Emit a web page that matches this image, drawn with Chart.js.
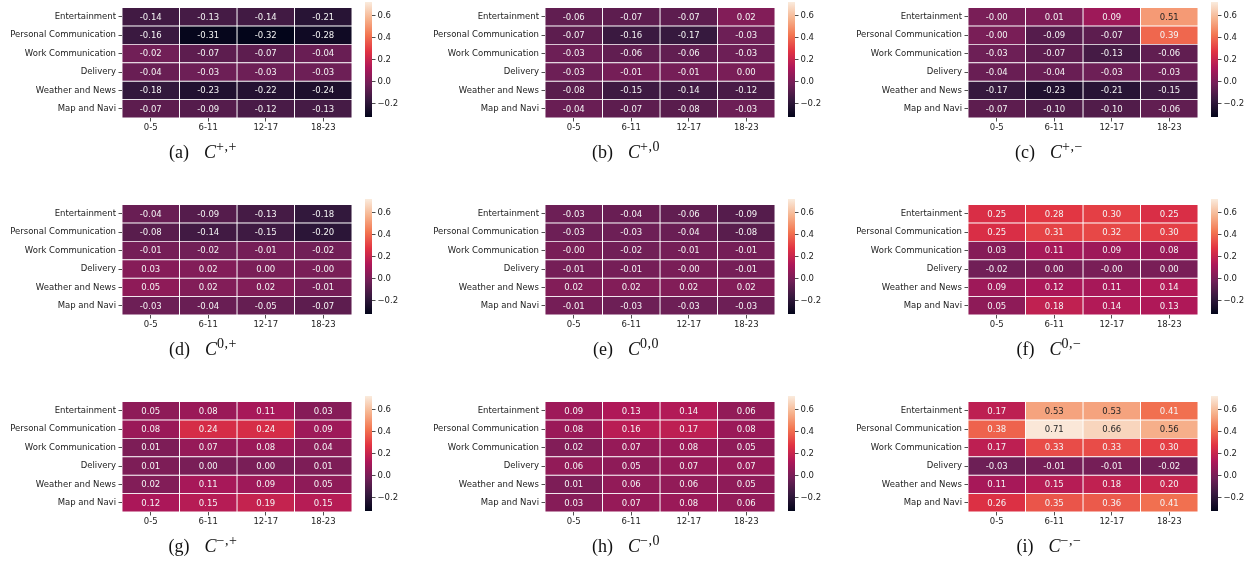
<!DOCTYPE html>
<html>
<head>
<meta charset="utf-8">
<script src="https://cdn.jsdelivr.net/npm/chart.js@4.4.1/dist/chart.umd.min.js"></script>
<style>
  body { margin: 0; background: #fff; }
  #fig { position: relative; width: 1260px; height: 565px; overflow: hidden; }
  #fig canvas { position: absolute; }
  .cap { position: absolute; width: 200px; text-align: center; font-family: 'Liberation Serif', serif; font-size: 18px; color: #111; line-height: 20px; }
  .cap i { margin-left: 15px; }
  .cap sup { font-size: 14px; letter-spacing: 0.5px; vertical-align: 7px; line-height: 0; }
</style>
</head>
<body>
<div id="fig"></div>
<script>
// rows / columns
var apps = ['Entertainment', 'Personal Communication', 'Work Communication', 'Delivery', 'Weather and News', 'Map and Navi'];
var periods = ['0-5', '6-11', '12-17', '18-23'];

// colour bar
var cbMin = -0.32;
var cbMax = 0.72;
var cbTicks = [-0.2, 0.0, 0.2, 0.4, 0.6];

// one array per panel, rows = apps, cols = periods
var cPP = [[-0.14, -0.13, -0.14, -0.21], [-0.16, -0.31, -0.32, -0.28], [-0.02, -0.07, -0.07, -0.04],
           [-0.04, -0.03, -0.03, -0.03], [-0.18, -0.23, -0.22, -0.24], [-0.07, -0.09, -0.12, -0.13]];
var cP0 = [[-0.06, -0.07, -0.07, 0.02], [-0.07, -0.16, -0.17, -0.03], [-0.03, -0.06, -0.06, -0.03],
           [-0.03, -0.01, -0.01, 0.00], [-0.08, -0.15, -0.14, -0.12], [-0.04, -0.07, -0.08, -0.03]];
var cPM = [[-0.00, 0.01, 0.09, 0.51], [-0.00, -0.09, -0.07, 0.39], [-0.03, -0.07, -0.13, -0.06],
           [-0.04, -0.04, -0.03, -0.03], [-0.17, -0.23, -0.21, -0.15], [-0.07, -0.10, -0.10, -0.06]];
var c0P = [[-0.04, -0.09, -0.13, -0.18], [-0.08, -0.14, -0.15, -0.20], [-0.01, -0.02, -0.01, -0.02],
           [0.03, 0.02, 0.00, -0.00], [0.05, 0.02, 0.02, -0.01], [-0.03, -0.04, -0.05, -0.07]];
var c00 = [[-0.03, -0.04, -0.06, -0.09], [-0.03, -0.03, -0.04, -0.08], [-0.00, -0.02, -0.01, -0.01],
           [-0.01, -0.01, -0.00, -0.01], [0.02, 0.02, 0.02, 0.02], [-0.01, -0.03, -0.03, -0.03]];
var c0M = [[0.25, 0.28, 0.30, 0.25], [0.25, 0.31, 0.32, 0.30], [0.03, 0.11, 0.09, 0.08],
           [-0.02, 0.00, -0.00, 0.00], [0.09, 0.12, 0.11, 0.14], [0.05, 0.18, 0.14, 0.13]];
var cMP = [[0.05, 0.08, 0.11, 0.03], [0.08, 0.24, 0.24, 0.09], [0.01, 0.07, 0.08, 0.04],
           [0.01, 0.00, 0.00, 0.01], [0.02, 0.11, 0.09, 0.05], [0.12, 0.15, 0.19, 0.15]];
var cM0 = [[0.09, 0.13, 0.14, 0.06], [0.08, 0.16, 0.17, 0.08], [0.02, 0.07, 0.08, 0.05],
           [0.06, 0.05, 0.07, 0.07], [0.01, 0.06, 0.06, 0.05], [0.03, 0.07, 0.08, 0.06]];
var cMM = [[0.17, 0.53, 0.53, 0.41], [0.38, 0.71, 0.66, 0.56], [0.17, 0.33, 0.33, 0.30],
           [-0.03, -0.01, -0.01, -0.02], [0.11, 0.15, 0.18, 0.20], [0.26, 0.35, 0.36, 0.41]];

var panelData = [cPP, cP0, cPM, c0P, c00, c0M, cMP, cM0, cMM];
var panelTags = ['(a)', '(b)', '(c)', '(d)', '(e)', '(f)', '(g)', '(h)', '(i)'];
var panelSups = ['+,+', '+,0', '+,\u2212', '0,+', '0,0', '0,\u2212', '\u2212,+', '\u2212,0', '\u2212,\u2212'];

// layout of the 3x3 grid (plot area top-left)
var colLeft = [122, 545, 968];
var rowTop = [2, 199, 396];

var FONT = { family: 'DejaVu Sans', size: 8.5 };
var INK = '#222222';

// seaborn "rocket" colormap, sampled stops
var rocketStops = [[3, 5, 26], [53, 25, 62], [112, 31, 87], [173, 23, 89],
                   [225, 51, 66], [243, 118, 81], [246, 180, 143], [250, 235, 221]];

function rocketRgb(t) {
    t = Math.max(0, Math.min(1, t));
    var p = t * (rocketStops.length - 1);
    var i = Math.min(Math.floor(p), rocketStops.length - 2);
    var f = p - i;
    var a = rocketStops[i], b = rocketStops[i + 1];
    return [0, 1, 2].map(function (k) { return Math.round(a[k] + (b[k] - a[k]) * f); });
}

function norm(v) { return (v - cbMin) / (cbMax - cbMin); }

function rgbStr(c) { return 'rgb(' + c[0] + ',' + c[1] + ',' + c[2] + ')'; }

function luminance(c) {
    var l = c.map(function (x) {
        x = x / 255;
        return x <= 0.03928 ? x / 12.92 : Math.pow((x + 0.055) / 1.055, 2.4);
    });
    return 0.2126 * l[0] + 0.7152 * l[1] + 0.0722 * l[2];
}

function fmtCell(v) {
    if (v < 0 || Object.is(v, -0)) { return '-' + Math.abs(v).toFixed(2); }
    return v.toFixed(2);
}

// writes the value in every cell
var cellText = {
    id: 'cellText',
    afterDatasetsDraw: function (chart) {
        var ctx = chart.ctx;
        ctx.save();
        ctx.font = FONT.size + 'px ' + FONT.family;
        ctx.textAlign = 'center';
        ctx.textBaseline = 'middle';
        chart.data.datasets.forEach(function (ds, c) {
            var meta = chart.getDatasetMeta(c);
            meta.data.forEach(function (bar, r) {
                var v = ds.cellValues[r];
                ctx.fillStyle = luminance(rocketRgb(norm(v))) > 0.408 ? '#262626' : '#f4f4f4';
                ctx.fillText(fmtCell(v), (bar.x + bar.base) / 2, bar.y + 0.5);
            });
        });
        ctx.restore();
    }
};

function addCanvas(left, top, w, h) {
    var cv = document.createElement('canvas');
    cv.width = w;
    cv.height = h;
    cv.style.left = left + 'px';
    cv.style.top = top + 'px';
    cv.style.width = w + 'px';
    cv.style.height = h + 'px';
    document.getElementById('fig').appendChild(cv);
    return cv;
}

function makeHeatmap(left, top, values) {
    var cv = addCanvas(left - 122, top - 2, 356, 140);
    var datasets = periods.map(function (p, c) {
        return {
            label: p,
            data: apps.map(function () { return [c, c + 1]; }),
            cellValues: values.map(function (row) { return row[c]; }),
            backgroundColor: values.map(function (row) { return rgbStr(rocketRgb(norm(row[c]))); }),
            borderColor: '#ffffff',
            borderWidth: 0.8,
            borderSkipped: false,
            barPercentage: 1,
            categoryPercentage: 1,
            grouped: false
        };
    });

    return new Chart(cv, {
        type: 'bar',
        data: { labels: apps, datasets: datasets },
        options: {
            indexAxis: 'y',
            responsive: false,
            animation: false,
            events: [],
            layout: { padding: { top: 2, right: 4, left: 0, bottom: 0 } },
            plugins: { legend: { display: false }, tooltip: { enabled: false } },
            scales: {
                x: {
                    type: 'linear',
                    min: 0,
                    max: periods.length,
                    afterBuildTicks: function (axis) {
                        axis.ticks = periods.map(function (p, i) { return { value: i + 0.5 }; });
                    },
                    afterFit: function (axis) { axis.height = 22; },
                    ticks: {
                        autoSkip: false,
                        maxRotation: 0,
                        padding: 1.5,
                        font: FONT,
                        color: INK,
                        callback: function (v, i) { return periods[i]; }
                    },
                    grid: { drawOnChartArea: false, tickLength: 3.5, color: INK, lineWidth: 0.8 },
                    border: { display: false }
                },
                y: {
                    type: 'category',
                    afterFit: function (axis) { axis.width = 122; },
                    ticks: { padding: 2.5, font: FONT, color: INK, autoSkip: false },
                    grid: { offset: false, drawOnChartArea: false, tickLength: 3.5, color: INK, lineWidth: 0.8 },
                    border: { display: false }
                }
            }
        },
        plugins: [cellText]
    });
}

function makeColorbar(left, top) {
    var cv = addCanvas(left - 2, top - 6, 42, 129);
    return new Chart(cv, {
        type: 'bar',
        data: {
            labels: [''],
            datasets: [{
                data: [[cbMin, cbMax]],
                backgroundColor: function (ctx) {
                    var chart = ctx.chart;
                    if (!chart.chartArea) { return null; }
                    var y = chart.scales.y;
                    var g = chart.ctx.createLinearGradient(0, y.getPixelForValue(cbMin), 0, y.getPixelForValue(cbMax));
                    rocketStops.forEach(function (s, i) {
                        g.addColorStop(i / (rocketStops.length - 1), rgbStr(s));
                    });
                    return g;
                },
                borderWidth: 0,
                barPercentage: 1,
                categoryPercentage: 1
            }]
        },
        options: {
            responsive: false,
            animation: false,
            events: [],
            layout: { padding: { top: 5, right: 0, left: 2, bottom: 6 } },
            plugins: { legend: { display: false }, tooltip: { enabled: false } },
            scales: {
                x: { display: false },
                y: {
                    position: 'right',
                    min: cbMin,
                    max: cbMax,
                    afterBuildTicks: function (axis) {
                        axis.ticks = cbTicks.map(function (v) { return { value: v }; });
                    },
                    afterFit: function (axis) { axis.width = 33; },
                    ticks: {
                        padding: 2,
                        font: FONT,
                        color: INK,
                        callback: function (v) { return v.toFixed(1).replace('-', '\u2212'); }
                    },
                    grid: { drawOnChartArea: false, tickLength: 3.5, color: INK, lineWidth: 0.8 },
                    border: { display: false }
                }
            }
        }
    });
}

function addCaption(centerX, centerY, tag, sup) {
    var d = document.createElement('div');
    d.className = 'cap';
    d.style.left = (centerX - 100) + 'px';
    d.style.top = (centerY - 10) + 'px';
    d.innerHTML = tag + '<i>C</i><sup>' + sup + '</sup>';
    document.getElementById('fig').appendChild(d);
}

panelData.forEach(function (vals, k) {
    var left = colLeft[k % 3];
    var top = rowTop[Math.floor(k / 3)];
    makeHeatmap(left, top, vals);
    makeColorbar(left + 243, top - 1);
    addCaption(left + 81, top + 150, panelTags[k], panelSups[k]);
});
</script>
</body>
</html>
